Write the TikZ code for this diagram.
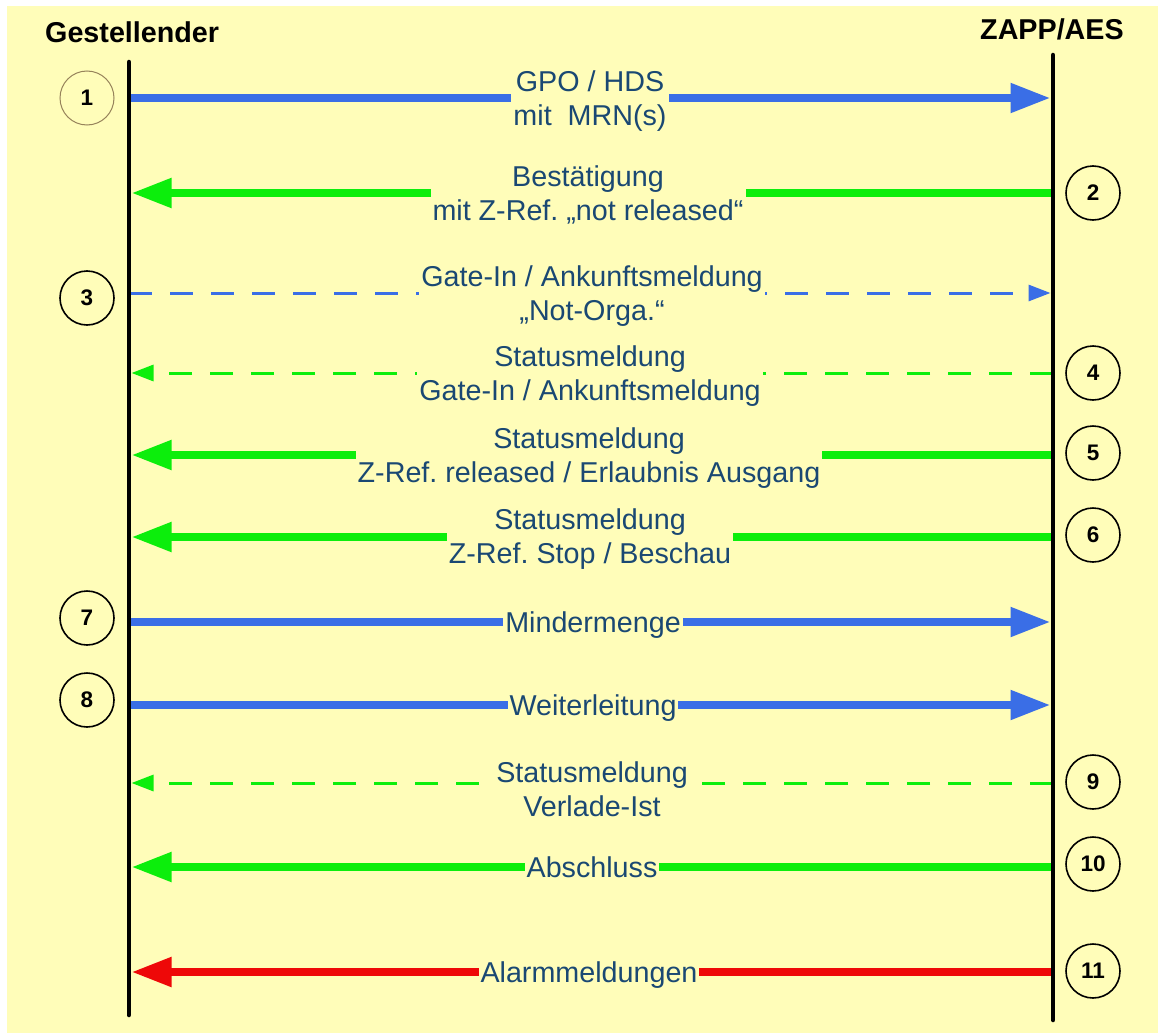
\documentclass[tikz,border=0pt]{standalone}
\usepackage{fontspec}
\setmainfont{Liberation Sans}
\usetikzlibrary{arrows.meta}
\definecolor{bg}{RGB}{255,253,185}
\definecolor{msgblue}{RGB}{58,110,230}
\definecolor{msggreen}{RGB}{12,238,12}
\definecolor{msgred}{RGB}{238,8,8}
\definecolor{labtext}{RGB}{26,72,115}
\definecolor{circone}{RGB}{150,130,90}
\frenchspacing
\begin{document}
\begin{tikzpicture}[x=1pt,y=-1pt,
  lifeline/.style={line width=4.5pt, line cap=round},
  thickmsg/.style={line width=8pt, shorten >=2.5pt, -{Triangle[length=40pt,width=28pt]}},
  thinmsg/.style={line width=3pt, shorten >=2.5pt, dash pattern=on 23pt off 18pt, -{Triangle[length=22pt,width=16pt]}},
  lab/.style={fill=bg, text=labtext, inner xsep=2pt, inner ysep=0pt, align=center, font=\fontsize{28.7}{34}\selectfont\frenchspacing},
  titletext/.style={font=\fontsize{28.7}{34}\selectfont\bfseries, inner sep=0pt, anchor=base west},
  num/.style={circle, draw=black, line width=1.6pt, minimum size=54pt, inner sep=0pt, font=\fontsize{22.5}{26}\selectfont\bfseries}
]
\useasboundingbox (0,0) rectangle (1158,1033);
\fill[white] (0,0) rectangle (1158,1033);
\fill[bg] (7,6) rectangle (1158,1033);

% lifeline end points
\coordinate (lt) at (129,62);
\coordinate (lb) at (129,1015);
\coordinate (rt) at (1053,55);
\coordinate (rb) at (1053,1020);

% message end points
\foreach \i/\y in {1/98,2/193,3/293,4/373,5/455,6/537,7/622,8/705,9/783,10/867,11/972}{
  \coordinate (L\i) at (129,\y);
  \coordinate (R\i) at (1053,\y);
}

% connectors
\draw[thickmsg, msgblue] (L1) -- (R1);
\draw[thickmsg, msggreen] (R2) -- (L2);
\draw[thinmsg, msgblue] (L3) -- (R3);
\draw[thinmsg, msggreen] (R4) -- (L4);
\draw[thickmsg, msggreen] (R5) -- (L5);
\draw[thickmsg, msggreen] (R6) -- (L6);
\draw[thickmsg, msgblue] (L7) -- (R7);
\draw[thickmsg, msgblue] (L8) -- (R8);
\draw[thinmsg, msggreen] (R9) -- (L9);
\draw[thickmsg, msggreen] (R10) -- (L10);
\draw[thickmsg, msgred] (R11) -- (L11);

% labels
\node[lab] (m1) at (590,101.5) {\strut GPO / HDS\\\strut mit\ \ MRN(s)};
\node[lab] (m2) at (588,196.5) {\strut Bestätigung\\\strut mit Z-Ref. „not released“};
\node[lab] (m3) at (592,296.5) {\strut Gate-In / Ankunftsmeldung\\\strut „Not-Orga.“};
\node[lab] (m4) at (590,376.5) {\strut Statusmeldung\\\strut Gate-In / Ankunftsmeldung};
\node[lab] (m5) at (589,458.5) {\strut Statusmeldung\\\strut Z-Ref. released / Erlaubnis Ausgang};
\node[lab] (m6) at (590,540) {\strut Statusmeldung\\\strut Z-Ref. Stop / Beschau};
\node[lab] (m7) at (593,625.5) {\strut Mindermenge};
\node[lab] (m8) at (593,708.5) {\strut Weiterleitung};
\node[lab] (m9) at (592,792.5) {\strut Statusmeldung\\\strut Verlade-Ist};
\node[lab] (m10) at (592,870.5) {\strut Abschluss};
\node[lab] (m11) at (589,975.5) {\strut Alarmmeldungen};

% lifelines
\draw[lifeline] (lt) -- (lb);
\draw[lifeline] (rt) -- (rb);

% titles
\node[titletext] (t1) at (45,43) {Gestellender};
\node[titletext] (t2) at (980,40) {ZAPP/AES};

% step numbers
\node[num, draw=circone, line width=1pt] (n1) at (87,98) {1};
\node[num] (n2) at (1093,193) {2};
\node[num] (n3) at (87,298) {3};
\node[num] (n4) at (1093,373) {4};
\node[num] (n5) at (1093,453) {5};
\node[num] (n6) at (1093,535) {6};
\node[num] (n7) at (87,618) {7};
\node[num] (n8) at (87,700) {8};
\node[num] (n9) at (1093,782) {9};
\node[num] (n10) at (1093,864) {10};
\node[num] (n11) at (1093,971) {11};
\end{tikzpicture}
\end{document}
